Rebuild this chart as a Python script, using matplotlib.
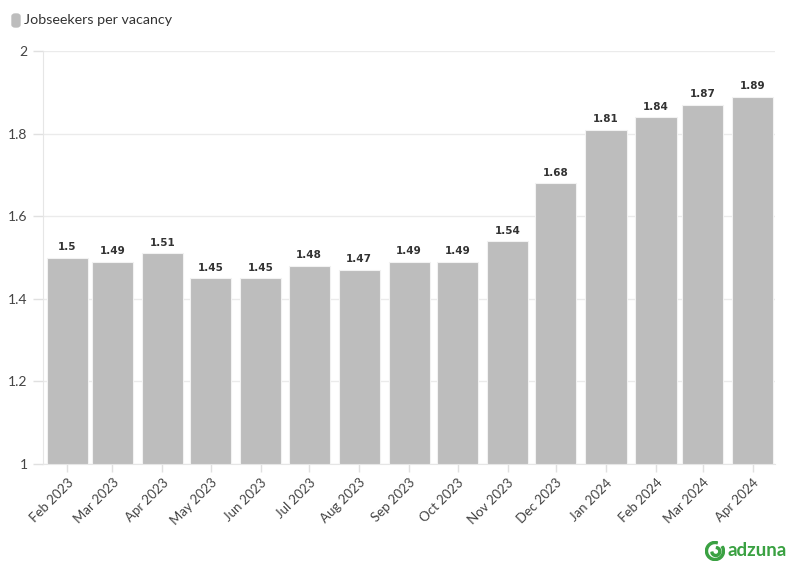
import pandas as pd
import matplotlib.pyplot as plt
import matplotlib.dates as mdates
from matplotlib.patches import FancyBboxPatch, Wedge

# --- data ---
months = ['2023-02-01', '2023-03-01', '2023-04-01', '2023-05-01', '2023-06-01',
          '2023-07-01', '2023-08-01', '2023-09-01', '2023-10-01', '2023-11-01',
          '2023-12-01', '2024-01-01', '2024-02-01', '2024-03-01', '2024-04-01']
ratio = [1.5, 1.49, 1.51, 1.45, 1.45, 1.48, 1.47, 1.49, 1.49, 1.54,
         1.68, 1.81, 1.84, 1.87, 1.89]
yticks = [1, 1.2, 1.4, 1.6, 1.8, 2]
series_name = 'Jobseekers per vacancy'

dates = pd.to_datetime(months)

plt.rcParams['font.family'] = ['Lato', 'DejaVu Sans']

fig = plt.figure(figsize=(7.96, 5.75), dpi=100)
ax = fig.add_axes([0.054, 0.193, 0.920, 0.718])

bar_color = '#bdbdbd'
ax.bar(dates, [v - 1 for v in ratio], bottom=1, width=25.5, color=bar_color,
       edgecolor='#f2f2f2', linewidth=0.8, zorder=3)

for d, v in zip(dates, ratio):
    ax.annotate(f'{v:g}', (d, v), xytext=(0, 4), textcoords='offset points',
                ha='center', va='bottom', fontsize=7.5, fontweight='bold',
                color='#333333', family='DejaVu Sans')

ax.set_xlim(pd.Timestamp('2023-01-17'), pd.Timestamp('2024-04-15'))
ax.set_ylim(1, 2)
ax.set_yticks(yticks)
ax.set_yticklabels([f'{t:g}' for t in yticks])
ax.set_xticks(dates)
ax.xaxis.set_major_formatter(mdates.DateFormatter('%b %Y'))
plt.setp(ax.get_xticklabels(), rotation=45, ha='right', rotation_mode='anchor')

ax.grid(axis='y', color='#ebebeb', linewidth=1, zorder=0)
for side in ['top', 'right']:
    ax.spines[side].set_visible(False)
ax.spines['left'].set_color('#e6e6e6')
ax.spines['bottom'].set_color('#e6e6e6')
ax.tick_params(axis='x', colors='#e0e0e0', labelcolor='#444444', labelsize=9.5,
               length=6, width=1, pad=3)
ax.tick_params(axis='y', colors='#e0e0e0', labelcolor='#444444', labelsize=10,
               length=7, width=1, pad=4)

# legend
fig.patches.append(FancyBboxPatch((12 / 796, 1 - 27 / 575), 8 / 796, 13 / 575,
                                  boxstyle='round,pad=0,rounding_size=0.004',
                                  transform=fig.transFigure, color=bar_color))
fig.text(24 / 796, 1 - 20 / 575, series_name, fontsize=10.3, color='#333333',
         va='center', ha='left')

# adzuna logo
green = '#3aa142'
logo = fig.add_axes([705 / 796, 1 - 561 / 575, 20 / 796, 20 / 575])
logo.set_xlim(-1, 1)
logo.set_ylim(-1, 1)
logo.set_aspect('equal')
logo.axis('off')
logo.add_patch(Wedge((0, 0), 0.95, 75, 390, width=0.2, color=green))
logo.add_patch(Wedge((0.08, -0.05), 0.5, 190, 440, width=0.2, color=green))
fig.text(727 / 796, 1 - 550 / 575, 'adzuna', fontsize=13.5, fontweight='bold',
         color=green, va='center', ha='left')

fig.savefig('out.png', dpi=100)
